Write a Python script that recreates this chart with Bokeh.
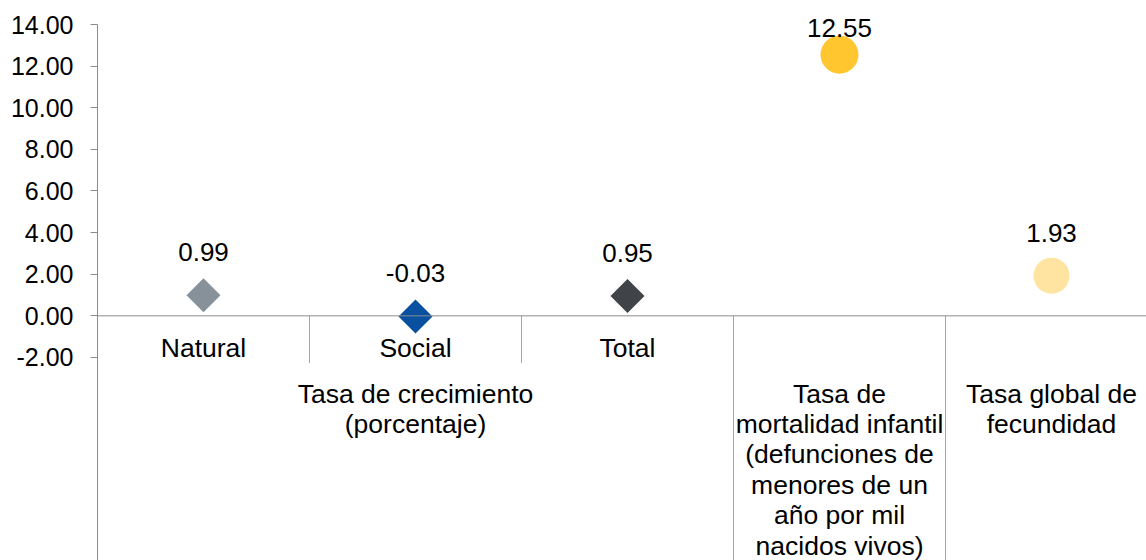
import numpy as np
from bokeh.plotting import figure
from bokeh.models import ColumnDataSource, FixedTicker, NumeralTickFormatter, Span, Range1d
from bokeh.core.properties import value
from bokeh.embed import file_html
from bokeh.resources import INLINE

# ---------------- data ----------------
sub_labels = ["Natural", "Social", "Total", "", ""]
groups = ["crecimiento", "crecimiento", "crecimiento", "mortalidad", "fecundidad"]
group_names = ["crecimiento", "mortalidad", "fecundidad"]
group_lines = [
    ["Tasa de crecimiento", "(porcentaje)"],
    ["Tasa de", "mortalidad infantil", "(defunciones de", "menores de un", "año por mil", "nacidos vivos)"],
    ["Tasa global de", "fecundidad"],
]
values = [0.99, -0.03, 0.95, 12.55, 1.93]
value_labels = ["0.99", "-0.03", "0.95", "12.55", "1.93"]
y_ticks = [-2, 0, 2, 4, 6, 8, 10, 12, 14]

# ---------------- style ----------------
colors = ["#87919a", "#0a50a0", "#404448", "#ffc62f", "#ffe3a1"]
markers = ["square", "square", "square", "circle", "circle"]
angles = [np.pi / 4, np.pi / 4, np.pi / 4, 0, 0]
sizes = [24, 24, 24, 38, 36]
FONT = "Liberation Sans"
FS_TICK = "25px"
FS_TEXT = "26.5px"
FS_LAB = "26px"

W, H = 1146, 560
LEFT = 97
TOP = 24
PX_UNIT = 20.81      # pixels per y unit
CAT_PX = 212         # pixels per category
y_end = 14 + TOP / PX_UNIT
y_start = y_end - H / PX_UNIT
x_end = (W - LEFT) / CAT_PX
zero_px = TOP + 14 * PX_UNIT

n = len(values)
xs = np.arange(n) + 0.5

p = figure(width=W, height=H, output_backend="svg", toolbar_location=None,
           x_range=Range1d(0, x_end), y_range=Range1d(y_start, y_end),
           x_axis_location=None, min_border_left=LEFT, min_border_right=0,
           min_border_top=0, min_border_bottom=0)
p.outline_line_color = None
p.grid.visible = False
p.background_fill_color = "white"
p.border_fill_color = "white"

ax = p.yaxis[0]
ax.ticker = FixedTicker(ticks=y_ticks)
ax.formatter = NumeralTickFormatter(format="0.00")
ax.bounds = (y_start, 14)
ax.axis_line_color = "#8c8c8c"
ax.major_tick_line_color = "#8c8c8c"
ax.major_tick_out = 7
ax.major_tick_in = 0
ax.minor_tick_line_color = None
ax.major_label_text_font = FONT
ax.major_label_text_font_size = FS_TICK
ax.major_label_text_color = "black"
ax.major_label_standoff = 17

# zero line
p.add_layout(Span(location=0, dimension="width", line_color="#8c8c8c", line_width=1))

# separators between categories
short_bottom = -2.27
sep_x, sep_y1 = [], []
for i in range(1, n):
    sep_x.append(i)
    sep_y1.append(short_bottom if groups[i] == groups[i - 1] else y_start)
p.segment(x0=sep_x, y0=[0] * len(sep_x), x1=sep_x, y1=sep_y1,
          line_color="#a6a6a6", line_width=1)

# markers
src = ColumnDataSource(dict(x=xs, y=values, color=colors, marker=markers,
                            angle=angles, size=sizes))
p.scatter(x="x", y="y", marker="marker", size="size", angle="angle",
          fill_color="color", line_color=None, source=src)

# data labels
lab_off = 43 / PX_UNIT
lab_top = 13.81
lab_y = [min(v + lab_off, lab_top) for v in values]
p.text(x=xs, y=lab_y, text=value_labels, text_align="center", text_baseline="middle",
       text_font=value(FONT), text_font_size=FS_LAB, text_color="black")

# sub category labels
sub_y = -(347 - zero_px) / PX_UNIT
sx = [x for x, s in zip(xs, sub_labels) if s]
st = [s for s in sub_labels if s]
p.text(x=sx, y=[sub_y] * len(sx), text=st, text_align="center", text_baseline="middle",
       text_font=value(FONT), text_font_size=FS_TEXT, text_color="black")

# group labels
g_y0 = -(393 - zero_px) / PX_UNIT
g_step = 30.4 / PX_UNIT
gx, gy, gt = [], [], []
for g, lines in zip(group_names, group_lines):
    idx = [i for i, gg in enumerate(groups) if gg == g]
    cx = float(np.mean([xs[i] for i in idx]))
    for k, line in enumerate(lines):
        gx.append(cx)
        gy.append(g_y0 - k * g_step)
        gt.append(line)
p.text(x=gx, y=gy, text=gt, text_align="center", text_baseline="middle",
       text_font=value(FONT), text_font_size=FS_TEXT, text_color="black")

open("out.html", "w").write(file_html(p, INLINE))
